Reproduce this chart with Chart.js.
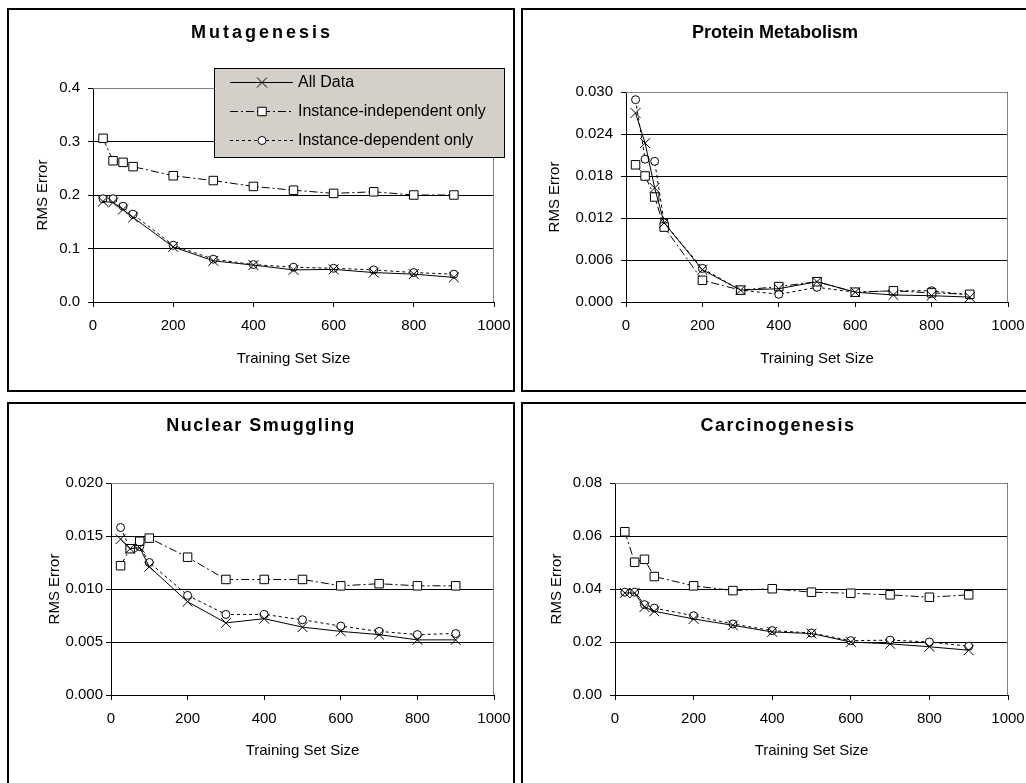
<!DOCTYPE html>
<html>
<head>
<meta charset="utf-8">
<script src="https://cdn.jsdelivr.net/npm/chart.js@4.4.1/dist/chart.umd.min.js"></script>
<style>
body { margin: 0; background: #fff; width: 1026px; height: 783px; overflow: hidden; position: relative; }
.panel { position: absolute; border: 2px solid #000; box-sizing: border-box; }
canvas { position: absolute; }
</style>
</head>
<body>
<div class="panel" style="left:7px;top:8px;width:508px;height:384px"></div>
<div class="panel" style="left:521px;top:8px;width:510px;height:384px"></div>
<div class="panel" style="left:7px;top:402px;width:508px;height:390px"></div>
<div class="panel" style="left:521px;top:402px;width:510px;height:390px"></div>
<canvas id="c1" width="504" height="380" style="left:9px;top:10px"></canvas>
<canvas id="c2" width="503" height="380" style="left:523px;top:10px"></canvas>
<canvas id="c3" width="504" height="379" style="left:9px;top:404px"></canvas>
<canvas id="c4" width="503" height="379" style="left:523px;top:404px"></canvas>
<script>
// training set sizes (x values) and axis ticks
const sizes = [25, 50, 75, 100, 200, 300, 400, 500, 600, 700, 800, 900];
const xTicks = [0, 200, 400, 600, 800, 1000];
const seriesNames = ['All Data', 'Instance-independent only', 'Instance-dependent only'];

// Mutagenesis
const mutAll   = [0.188, 0.186, 0.173, 0.158, 0.103, 0.077, 0.069, 0.060, 0.061, 0.055, 0.052, 0.046];
const mutIndep = [0.306, 0.264, 0.261, 0.253, 0.236, 0.227, 0.216, 0.209, 0.203, 0.206, 0.200, 0.200];
const mutDep   = [0.193, 0.193, 0.179, 0.164, 0.106, 0.080, 0.070, 0.065, 0.063, 0.060, 0.055, 0.052];
const mutTicks = ['0.0', '0.1', '0.2', '0.3', '0.4'];

// Protein Metabolism
const protAll   = [0.0270, 0.0227, 0.0163, 0.0113, 0.0046, 0.0017, 0.0019, 0.0029, 0.0014, 0.0010, 0.0009, 0.0007];
const protIndep = [0.0196, 0.0180, 0.0150, 0.0107, 0.0031, 0.0017, 0.0022, 0.0029, 0.0014, 0.0016, 0.0013, 0.0011];
const protDep   = [0.0289, 0.0204, 0.0201, 0.0113, 0.0048, 0.0017, 0.0011, 0.0021, 0.0014, 0.0016, 0.0016, 0.0010];
const protTicks = ['0.000', '0.006', '0.012', '0.018', '0.024', '0.030'];

// Nuclear Smuggling
const nucAll   = [0.0147, 0.0138, 0.0139, 0.0121, 0.0088, 0.0068, 0.0072, 0.0064, 0.0060, 0.0057, 0.0052, 0.0052];
const nucIndep = [0.0122, 0.0138, 0.0145, 0.0148, 0.0130, 0.0109, 0.0109, 0.0109, 0.0103, 0.0105, 0.0103, 0.0103];
const nucDep   = [0.0158, 0.0138, 0.0140, 0.0125, 0.0094, 0.0076, 0.0076, 0.0071, 0.0065, 0.0060, 0.0057, 0.0058];
const nucTicks = ['0.000', '0.005', '0.010', '0.015', '0.020'];

// Carcinogenesis
const carAll   = [0.0385, 0.0385, 0.0332, 0.0316, 0.0287, 0.0263, 0.0238, 0.0232, 0.0200, 0.0193, 0.0182, 0.0169];
const carIndep = [0.0616, 0.0501, 0.0512, 0.0447, 0.0412, 0.0394, 0.0401, 0.0388, 0.0384, 0.0378, 0.0369, 0.0378];
const carDep   = [0.0388, 0.0388, 0.0341, 0.0328, 0.0299, 0.0268, 0.0243, 0.0234, 0.0205, 0.0207, 0.0200, 0.0184];
const carTicks = ['0.00', '0.02', '0.04', '0.06', '0.08'];

const FONT = '"Liberation Sans", Arial, sans-serif';

// gray frame on top/right of the plot area, like Excel
const plotFrame = {
    id: 'plotFrame',
    beforeDatasetsDraw(chart) {
        const { ctx, chartArea: a } = chart;
        ctx.save();
        ctx.strokeStyle = '#808080';
        ctx.lineWidth = 1;
        ctx.beginPath();
        ctx.moveTo(a.left, a.top + 0.5);
        ctx.lineTo(a.right - 0.5, a.top + 0.5);
        ctx.lineTo(a.right - 0.5, a.bottom);
        ctx.stroke();
        ctx.restore();
    }
};

// bold panel title with a bit of letter spacing
const panelTitle = {
    id: 'panelTitle',
    afterDraw(chart, args, o) {
        const ctx = chart.ctx;
        ctx.save();
        ctx.font = 'bold 18px ' + FONT;
        ctx.letterSpacing = o.spacing + 'px';
        ctx.fillStyle = '#000';
        ctx.textAlign = 'center';
        ctx.textBaseline = 'middle';
        ctx.fillText(o.text, o.x, o.y);
        ctx.restore();
    }
};

// boxed legend drawn inside the first chart
const boxLegend = {
    id: 'boxLegend',
    afterDraw(chart) {
        const ctx = chart.ctx;
        const bx = 205, by = 58, bw = 290, bh = 89;
        ctx.save();
        ctx.fillStyle = '#d4d0c8';
        ctx.fillRect(bx, by, bw, bh);
        ctx.strokeStyle = '#000';
        ctx.lineWidth = 1;
        ctx.strokeRect(bx + 0.5, by + 0.5, bw, bh);
        const rows = [72, 101, 130];
        chart.data.datasets.forEach((ds, i) => {
            const y = rows[i] + 0.5;
            ctx.setLineDash(ds.borderDash || []);
            ctx.strokeStyle = '#000';
            ctx.lineWidth = 1;
            ctx.beginPath();
            ctx.moveTo(221, y);
            ctx.lineTo(284, y);
            ctx.stroke();
            ctx.setLineDash([]);
            ctx.fillStyle = '#fff';
            Chart.helpers.drawPoint(ctx, {
                pointStyle: ds.pointStyle, radius: ds.pointRadius, borderWidth: 1, rotation: 0
            }, 253, y);
            ctx.fillStyle = '#000';
            ctx.font = '16px ' + FONT;
            ctx.textAlign = 'left';
            ctx.textBaseline = 'middle';
            ctx.fillText(ds.label, 289, rows[i] + 1);
        });
        ctx.restore();
    }
};

function series(vals) {
    return sizes.map((x, i) => ({ x: x, y: vals[i] }));
}

function makeChart(id, title, all, indep, dep, yTicks, lay) {
    const plugins = [plotFrame, panelTitle];
    if (lay.legend) plugins.push(boxLegend);
    return new Chart(document.getElementById(id), {
        type: 'line',
        data: {
            datasets: [{
                label: seriesNames[0],
                data: series(all),
                borderColor: '#000',
                borderWidth: 1,
                pointStyle: 'crossRot',
                pointRadius: 7,
                pointBorderWidth: 1,
                pointBorderColor: '#000',
                pointBackgroundColor: '#fff'
            }, {
                label: seriesNames[1],
                data: series(indep),
                borderColor: '#000',
                borderWidth: 1,
                borderDash: [8, 3, 2, 3],
                pointStyle: 'rect',
                pointRadius: 6,
                pointBorderWidth: 1,
                pointBorderColor: '#000',
                pointBackgroundColor: '#fff'
            }, {
                label: seriesNames[2],
                data: series(dep),
                borderColor: '#000',
                borderWidth: 1,
                borderDash: [3, 3],
                pointStyle: 'circle',
                pointRadius: 4,
                pointBorderWidth: 1,
                pointBorderColor: '#000',
                pointBackgroundColor: '#fff'
            }]
        },
        options: {
            responsive: false,
            animation: false,
            devicePixelRatio: 1,
            layout: { padding: { left: 0, top: lay.top, right: lay.right, bottom: 0 } },
            plugins: {
                legend: { display: false },
                tooltip: { enabled: false },
                panelTitle: { text: title, x: lay.tx, y: lay.ty, spacing: lay.sp }
            },
            scales: {
                x: {
                    type: 'linear',
                    min: xTicks[0],
                    max: xTicks[xTicks.length - 1],
                    afterBuildTicks: s => { s.ticks = xTicks.map(v => ({ value: v })); },
                    afterFit: s => { s.height = 88; s.paddingLeft = 0; s.paddingRight = 0; },
                    ticks: { color: '#000', font: { family: FONT, size: 15 }, padding: 10, maxRotation: 0,
                             callback: v => String(v) },
                    grid: { drawOnChartArea: false, tickLength: 5, color: '#000' },
                    border: { color: '#000', width: 1 },
                    title: { display: true, text: 'Training Set Size', color: '#000',
                             font: { family: FONT, size: 15 }, padding: { top: 0, bottom: lay.xt } }
                },
                y: {
                    min: parseFloat(yTicks[0]),
                    max: parseFloat(yTicks[yTicks.length - 1]),
                    afterBuildTicks: s => { s.ticks = yTicks.map(t => ({ value: parseFloat(t) })); },
                    afterFit: s => { s.width = lay.yw; },
                    ticks: { color: '#000', font: { family: FONT, size: 15 }, padding: lay.yp,
                             callback: (v, i) => yTicks[i] },
                    grid: { color: '#000', tickLength: 5 },
                    border: { color: '#000', width: 1 },
                    title: { display: true, text: 'RMS Error', color: '#000',
                             font: { family: FONT, size: 15 }, padding: { top: lay.yt, bottom: 0 } }
                }
            }
        },
        plugins: plugins
    });
}

makeChart('c1', 'Mutagenesis', mutAll, mutIndep, mutDep, mutTicks,
    { top: 78, right: 19, yw: 84, yp: 8, yt: 25, xt: 22, tx: 253, ty: 23, sp: 3, legend: true });
makeChart('c2', 'Protein Metabolism', protAll, protIndep, protDep, protTicks,
    { top: 82, right: 18, yw: 103, yp: 8, yt: 23, xt: 22, tx: 252, ty: 23, sp: 0 });
makeChart('c3', 'Nuclear Smuggling', nucAll, nucIndep, nucDep, nucTicks,
    { top: 79, right: 19, yw: 102, yp: 3, yt: 37, xt: 23, tx: 252, ty: 22, sp: 1.5 });
makeChart('c4', 'Carcinogenesis', carAll, carIndep, carDep, carTicks,
    { top: 79, right: 18, yw: 92, yp: 8, yt: 25, xt: 23, tx: 255, ty: 22, sp: 1.5 });
</script>
</body>
</html>
